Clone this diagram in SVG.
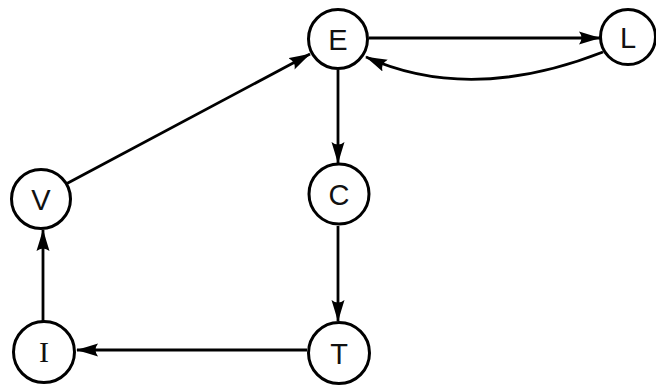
<svg xmlns="http://www.w3.org/2000/svg" width="656" height="388" viewBox="0 0 656 388">
<defs>
<style>
.node circle{fill:#fff;stroke:#000;stroke-width:3}
.node text{font-family:"Liberation Sans",Arial,sans-serif;font-size:29px;text-anchor:middle;fill:#111}
.node text.serif{font-family:"Liberation Serif","Times New Roman",serif;font-size:30px}
.edge{fill:none;stroke:#000;stroke-width:2.8}
</style>
<marker id="arr" viewBox="0 0 22 14" refX="21" refY="7" markerWidth="22" markerHeight="14" markerUnits="userSpaceOnUse" orient="auto">
<path d="M0,0.5 Q11,4 22,7 Q11,10 0,13.5 Q5,7 0,0.5 Z" fill="#000"/>
</marker>
</defs>
<rect width="656" height="388" fill="#fff"/>
<g id="connectors">
<line class="edge" x1="369" y1="38" x2="600" y2="38" marker-end="url(#arr)"/>
<path class="edge" d="M603,52 Q470,104 366,57" marker-end="url(#arr)"/>
<line class="edge" x1="66" y1="184" x2="310" y2="54" marker-end="url(#arr)"/>
<line class="edge" x1="338" y1="70" x2="338" y2="163" marker-end="url(#arr)"/>
<line class="edge" x1="338" y1="226" x2="338" y2="321" marker-end="url(#arr)"/>
<line class="edge" x1="307" y1="350" x2="77" y2="350" marker-end="url(#arr)"/>
<line class="edge" x1="43" y1="322" x2="43" y2="230" marker-end="url(#arr)"/>
</g>
<g id="node-E" class="node"><circle cx="338" cy="39" r="29.5"/><text x="338" y="49.5">E</text></g>
<g id="node-L" class="node"><circle cx="628" cy="37" r="27.5"/><text x="628" y="47.5">L</text></g>
<g id="node-V" class="node"><circle cx="41" cy="199" r="29.5"/><text x="41" y="209.5">V</text></g>
<g id="node-C" class="node"><circle cx="339" cy="194" r="30"/><text x="339" y="204.5">C</text></g>
<g id="node-I" class="node"><circle cx="44" cy="352" r="30.5"/><text class="serif" x="44" y="362">I</text></g>
<g id="node-T" class="node"><circle cx="339" cy="353" r="30.5"/><text x="339" y="363.5">T</text></g>
</svg>
